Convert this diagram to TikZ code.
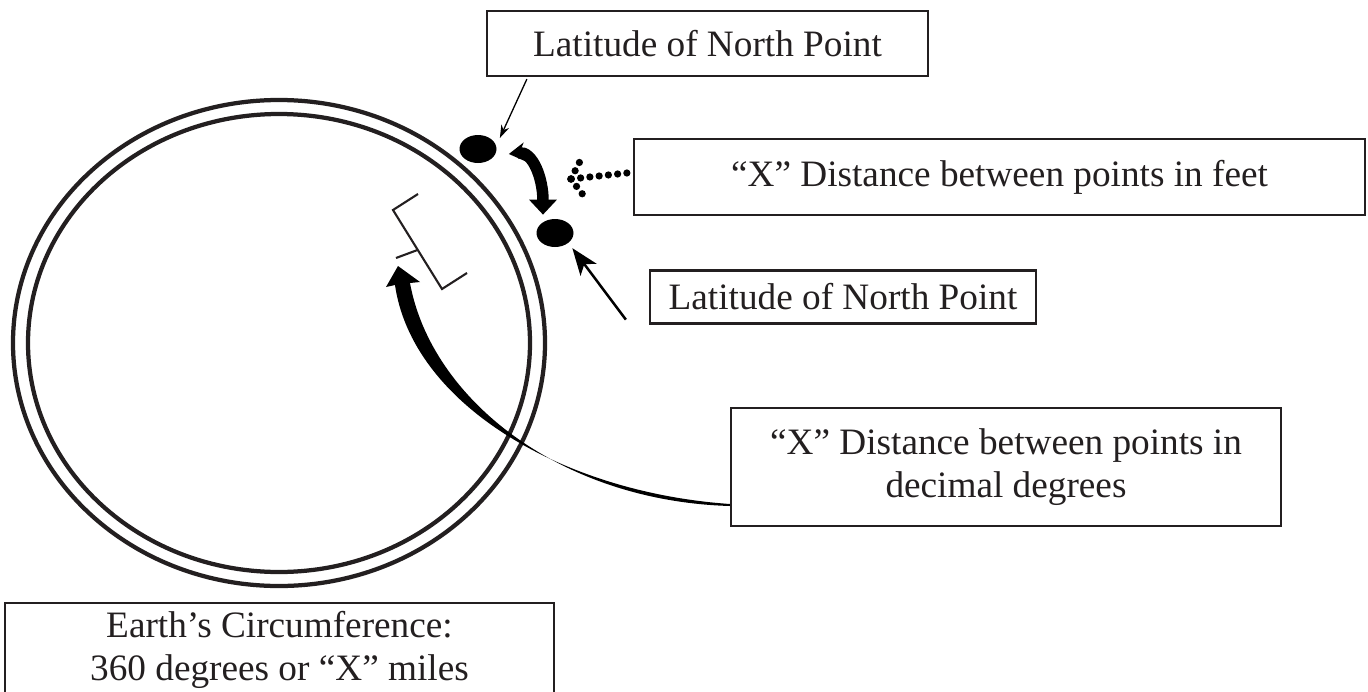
\documentclass[tikz,border=0pt]{standalone}
\usepackage{fontspec}
\setmainfont{Liberation Serif}
\usetikzlibrary{arrows.meta,positioning,shapes.geometric,calc}
\definecolor{ink}{RGB}{35,31,32}

\begin{document}
\begin{tikzpicture}[x=0.2mm, y=-0.2mm,
  font=\fontsize{21.2}{24.5}\selectfont,
  labelbox/.style={draw=ink, line width=0.45mm, align=center, inner sep=0pt, text=ink},
  blob/.style={ellipse, fill=black, inner sep=0pt, minimum width=7.4mm, minimum height=5.6mm},
  ring/.style={draw=ink, line width=0.85mm},
  bracket/.style={draw=ink, line width=0.42mm},
  thinarr/.style={-{Stealth[length=2.6mm, width=1.7mm]}, line width=0.26mm},
  midarr/.style={-{Stealth[length=5.4mm, width=4mm, inset=1.4mm]}, line width=0.5mm},
  fatarr/.style={{Stealth[length=3.2mm, width=3.8mm]}-{Triangle[length=3mm, width=5.4mm]}, line width=2.3mm},
  dotarr/.style={line width=1.45mm, line cap=round, dash pattern=on 0pt off 1.86mm}
]
\useasboundingbox (0,0) rectangle (1368,692);

\draw[ring] (279,343) ellipse [x radius=53.2mm, y radius=48.6mm];
\draw[ring] (279,343) ellipse [x radius=50.2mm, y radius=45.8mm];

\node[labelbox, minimum width=88.2mm, minimum height=13mm] (lat1) at (707.5,43.5) {Latitude of North Point};
\node[labelbox, minimum width=146.2mm, minimum height=15.2mm] (feet) at (999.5,177) {“X” Distance between points in feet};
\node[labelbox, minimum width=77.2mm, minimum height=10.6mm] (lat2) at (843,297) {Latitude of North Point};
\node[labelbox, minimum width=110mm, minimum height=23.6mm] (ddeg) at (1006,467) {“X” Distance between points in\\decimal degrees};
\node[labelbox, minimum width=109.8mm, minimum height=18.8mm] (earth) at (279.5,650) {Earth’s Circumference:\\360 degrees or “X” miles};

\node[blob] (d1) at (478,149) {};
\node[blob] (d2) at (555,233) {};

\draw[bracket] (418,194) -- (393,210) -- (442,289) -- (467,273);
\draw[bracket] (417.5,250) -- (396,258);

\draw[thinarr] ($(lat1.south west)+(41,2)$) -- ($(d1.east)+(3,-11)$);
\draw[midarr] ($(lat2.south west)+(-23,-5)$) -- ($(d2.south east)+(4,5)$);
\draw[fatarr] ($(d1.east)+(12,5)$) .. controls +(24,-3) and +(0,-36) .. ($(d2.north)+(-12,-4)$);

\coordinate (dh) at ($(feet.west)+(-62,2)$);
\draw[dotarr] ($(feet.west)+(-6,-4)$) -- (dh);
\draw[dotarr] (dh) -- ++(9,-17.5);
\draw[dotarr] (dh) -- ++(11.5,15);

\coordinate (cs) at ($(ddeg.west)+(0,38)$);
\coordinate (ctip) at (398,266);
\fill[black] ($(cs)+(0,-1)$) .. controls +(-171,-12) and +(17,117) .. ($(ctip)+(-3,19)$)
  -- ($(ctip)+(-12,21)$) -- (ctip) -- ($(ctip)+(22,16)$) -- ($(ctip)+(12,17)$)
  .. controls +(21,115) and +(-171,-5) .. ($(cs)+(0,1)$) -- cycle;
\end{tikzpicture}
\end{document}
